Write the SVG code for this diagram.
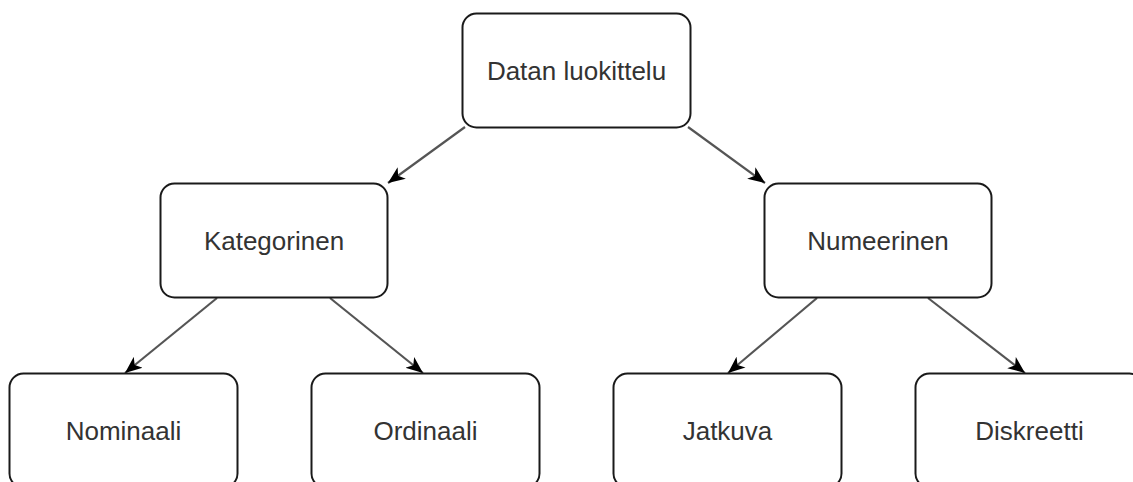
<svg xmlns="http://www.w3.org/2000/svg" width="1133" height="482" viewBox="0 0 1133 482">
  <defs>
    <style>
      .box { fill: #ffffff; stroke: #1a1a1a; stroke-width: 2; }
      .label { font-family: "Liberation Sans", Arial, sans-serif; font-size: 26px; fill: #333333; text-anchor: middle; }
      .edge { fill: none; stroke: #555555; stroke-width: 2.2; }
    </style>
    <marker id="arrow" markerUnits="userSpaceOnUse" markerWidth="18" markerHeight="16" viewBox="0 0 18 16" refX="17" refY="8" orient="auto">
      <path d="M0,1 L17,8 L0,15 L4.5,8 Z" fill="#000000"/>
    </marker>
  </defs>

  <!-- connectors -->
  <g id="connectors">
    <line class="edge" x1="465" y1="127" x2="388" y2="183" marker-end="url(#arrow)"/>
    <line class="edge" x1="688" y1="127" x2="765" y2="183" marker-end="url(#arrow)"/>
    <line class="edge" x1="217" y1="298" x2="125" y2="373" marker-end="url(#arrow)"/>
    <line class="edge" x1="330" y1="298" x2="423" y2="373" marker-end="url(#arrow)"/>
    <line class="edge" x1="817" y1="298" x2="728" y2="373" marker-end="url(#arrow)"/>
    <line class="edge" x1="928" y1="298" x2="1025" y2="373" marker-end="url(#arrow)"/>
  </g>

  <!-- nodes -->
  <g id="node-datan-luokittelu">
    <rect class="box" x="462.5" y="13.5" width="228" height="114" rx="14"/>
    <text class="label" x="576.5" y="79.5">Datan luokittelu</text>
  </g>
  <g id="node-kategorinen">
    <rect class="box" x="160.5" y="183.5" width="227" height="114" rx="14"/>
    <text class="label" x="274" y="249.5">Kategorinen</text>
  </g>
  <g id="node-numeerinen">
    <rect class="box" x="764.5" y="183.5" width="227" height="114" rx="14"/>
    <text class="label" x="878" y="249.5">Numeerinen</text>
  </g>
  <g id="node-nominaali">
    <rect class="box" x="9.5" y="373.5" width="228" height="114" rx="14"/>
    <text class="label" x="123.5" y="439.5">Nominaali</text>
  </g>
  <g id="node-ordinaali">
    <rect class="box" x="311.5" y="373.5" width="228" height="114" rx="14"/>
    <text class="label" x="425.5" y="439.5">Ordinaali</text>
  </g>
  <g id="node-jatkuva">
    <rect class="box" x="613.5" y="373.5" width="228" height="114" rx="14"/>
    <text class="label" x="727.5" y="439.5">Jatkuva</text>
  </g>
  <g id="node-diskreetti">
    <rect class="box" x="915.5" y="373.5" width="228" height="114" rx="14"/>
    <text class="label" x="1029.5" y="439.5">Diskreetti</text>
  </g>
</svg>
